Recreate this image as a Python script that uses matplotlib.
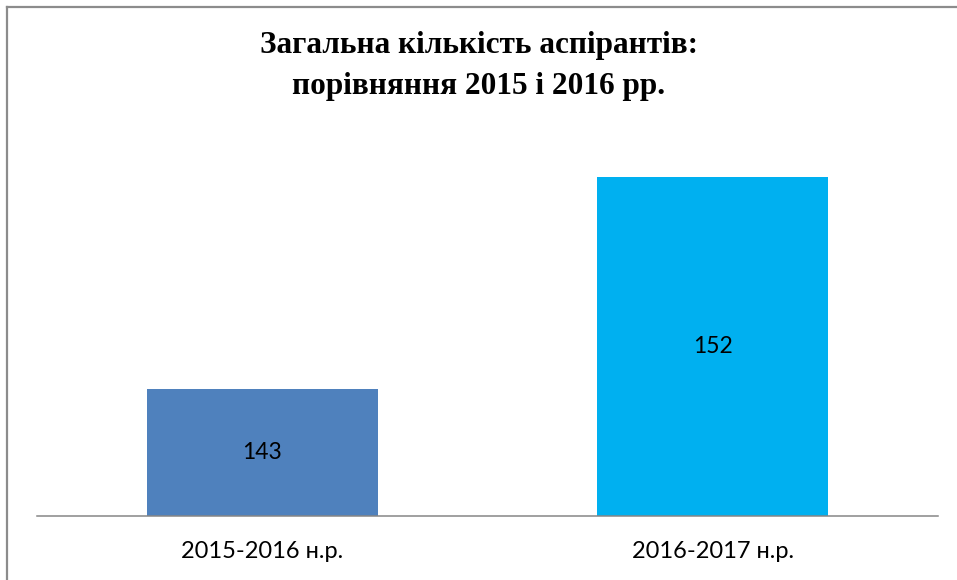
import matplotlib.pyplot as plt
from matplotlib.lines import Line2D

# data
categories = ["2015-2016 н.р.", "2016-2017 н.р."]
values = [143, 152]
bar_colors = ["#4F81BD", "#00B0F0"]
title = "Загальна кількість аспірантів:\nпорівняння 2015 і 2016 рр."
y_lo, y_hi = 137.6, 154.0

W, H = 957, 580
fig = plt.figure(figsize=(W / 100, H / 100), dpi=100)

# chart border (only top and left are visible in the crop)
border = "#8c8c8c"
fig.add_artist(Line2D([7 / W, 1], [1 - 7 / H, 1 - 7 / H], color=border, lw=1.6))
fig.add_artist(Line2D([7 / W, 7 / W], [0, 1 - 7 / H], color=border, lw=1.6))

ax = fig.add_axes([37 / W, 64 / H, 901 / W, 386 / H])
x = list(range(len(values)))
ax.bar(x, values, width=0.513, color=bar_colors, zorder=2)
ax.set_xlim(-0.5, 1.5)
ax.set_ylim(y_lo, y_hi)

# value labels in the middle of the visible part of each bar
for xi, v in zip(x, values):
    ax.text(xi, (y_lo + v) / 2, str(v), ha="center", va="center",
            fontsize=16.5, family="Lato", color="black", zorder=3)

for s in ["top", "left", "right"]:
    ax.spines[s].set_visible(False)
ax.spines["bottom"].set_color("#868686")
ax.spines["bottom"].set_linewidth(1.1)
ax.set_yticks([])
ax.set_xticks(x, categories)
ax.tick_params(axis="x", length=0, pad=18, labelsize=17)
for lab in ax.get_xticklabels():
    lab.set_family("Lato")

fig.text(0.5, 1 - 66 / H, title, ha="center", va="center", linespacing=1.52,
         fontsize=22.5, fontweight="bold", family="Liberation Serif")

fig.savefig("out.png", dpi=100)
